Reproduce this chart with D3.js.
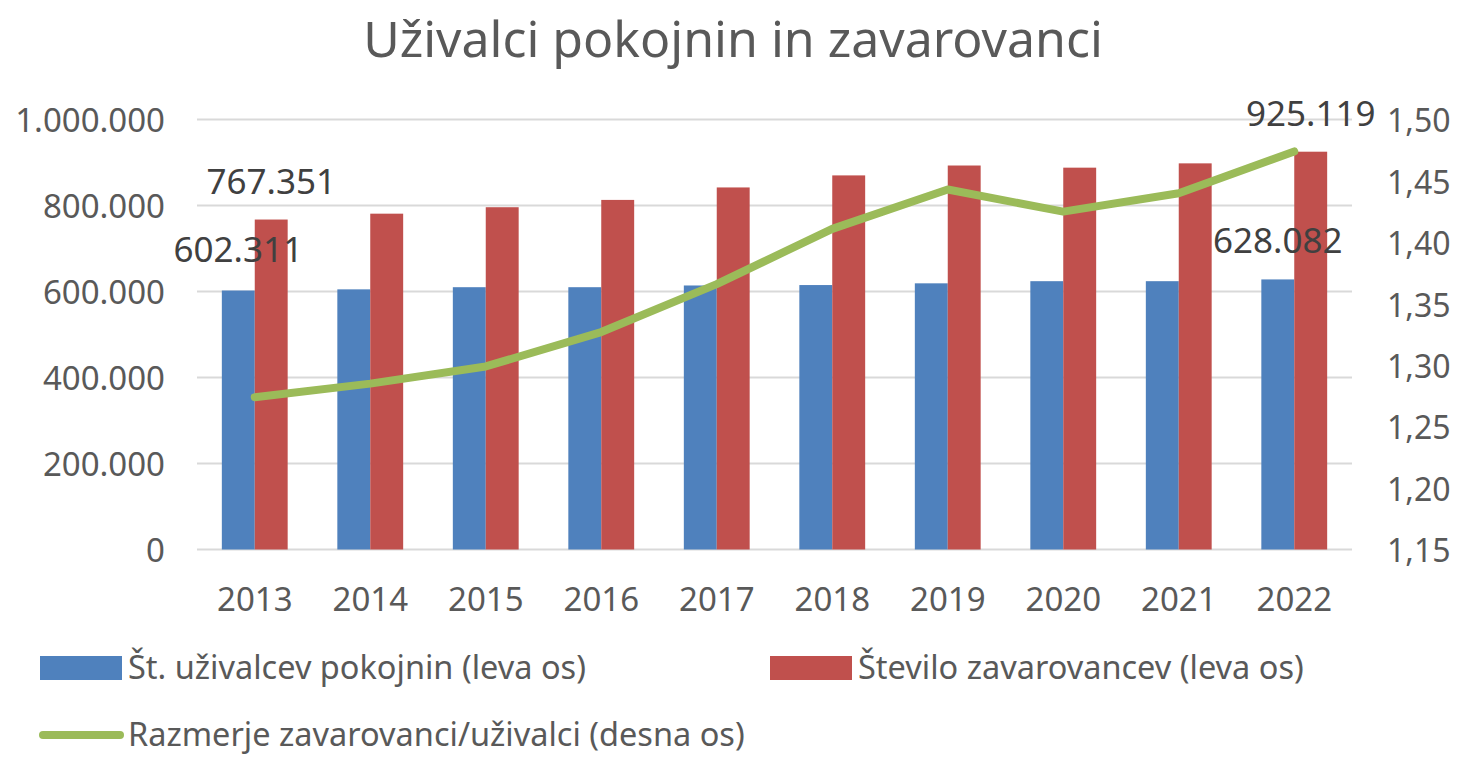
<!DOCTYPE html>
<html>
<head>
<meta charset="UTF-8">
<style>
  body { margin: 0; background: #fff; font-family: "Noto Sans", sans-serif; }
  svg { display: block; }
</style>
</head>
<body>
<div id="chart"></div>
<script src="https://d3js.org/d3.v7.min.js"></script>
<script>
  // data
  var years = ["2013", "2014", "2015", "2016", "2017", "2018", "2019", "2020", "2021", "2022"];
  var upokojenci = [602311, 605000, 610000, 610000, 614000, 615000, 619000, 624000, 624000, 628082];
  var zavarovanci = [767351, 781000, 796000, 813000, 842000, 870000, 893000, 888000, 898000, 925119];
  var razmerje = [1.274, 1.285, 1.299, 1.327, 1.366, 1.411, 1.443, 1.425, 1.440, 1.474];
  var leftTicks = [0, 200000, 400000, 600000, 800000, 1000000];
  var rightTicks = [1.15, 1.20, 1.25, 1.30, 1.35, 1.40, 1.45, 1.50];

  var width = 1461, height = 757;
  var margin = {top: 119.5, right: 109, bottom: 207.5, left: 197};

  var locale = d3.formatLocale({decimal: ",", thousands: ".", grouping: [3], currency: ["", "€"]});
  var fmtLeft = locale.format(",d");
  var fmtRight = locale.format(".2f");

  var svg = d3.select("#chart").append("svg")
    .attr("width", width)
    .attr("height", height);

  var x = d3.scaleBand()
    .domain(years)
    .range([margin.left, width - margin.right])
    .paddingInner(0.43)
    .paddingOuter(0.215);

  var sub = d3.scaleBand()
    .domain(["u", "z"])
    .range([0, x.bandwidth()]);

  var y = d3.scaleLinear()
    .domain([0, 1000000])
    .range([height - margin.bottom, margin.top]);

  var y2 = d3.scaleLinear()
    .domain([1.15, 1.50])
    .range([height - margin.bottom, margin.top]);

  // title
  svg.append("text")
    .attr("x", 733)
    .attr("y", 57)
    .attr("text-anchor", "middle")
    .attr("fill", "#595959")
    .style("font-size", "50px")
    .text("Uživalci pokojnin in zavarovanci");

  // gridlines
  svg.append("g")
    .selectAll("line")
    .data(leftTicks)
    .join("line")
    .attr("x1", margin.left)
    .attr("x2", width - margin.right)
    .attr("y1", d => y(d))
    .attr("y2", d => y(d))
    .attr("stroke", "#d9d9d9")
    .attr("stroke-width", 2);

  // left axis
  var gl = svg.append("g")
    .attr("transform", "translate(" + (margin.left - 32) + ",1)")
    .call(d3.axisLeft(y).tickValues(leftTicks).tickFormat(fmtLeft).tickSize(0).tickPadding(0));
  gl.select(".domain").remove();
  gl.selectAll("text")
    .attr("fill", "#595959")
    .style("font-family", "Noto Sans")
    .style("font-size", "33px");

  // right axis
  var gr = svg.append("g")
    .attr("transform", "translate(" + (width - margin.right + 35) + ",2)")
    .call(d3.axisRight(y2).tickValues(rightTicks).tickFormat(fmtRight).tickSize(0).tickPadding(0));
  gr.select(".domain").remove();
  gr.selectAll("text")
    .attr("fill", "#595959")
    .style("font-family", "Noto Sans")
    .style("font-size", "32px");

  // bottom axis labels
  var gb = svg.append("g")
    .attr("transform", "translate(0," + (height - margin.bottom + 38) + ")")
    .call(d3.axisBottom(x).tickSize(0).tickPadding(0));
  gb.select(".domain").remove();
  gb.selectAll("text")
    .attr("fill", "#595959")
    .style("font-family", "Noto Sans")
    .style("font-size", "33px");

  // bars
  var rows = years.map((yr, i) => ({year: yr, u: upokojenci[i], z: zavarovanci[i], r: razmerje[i]}));

  var groups = svg.append("g")
    .selectAll("g")
    .data(rows)
    .join("g")
    .attr("transform", d => "translate(" + x(d.year) + ",0)");

  groups.append("rect")
    .attr("x", sub("u"))
    .attr("y", d => y(d.u))
    .attr("width", sub.bandwidth())
    .attr("height", d => y(0) - y(d.u))
    .attr("fill", "#4f81bd");

  groups.append("rect")
    .attr("x", sub("z"))
    .attr("y", d => y(d.z))
    .attr("width", sub.bandwidth())
    .attr("height", d => y(0) - y(d.z))
    .attr("fill", "#c0504d");

  // ratio line
  var line = d3.line()
    .x(d => x(d.year) + x.bandwidth() / 2)
    .y(d => y2(d.r));

  svg.append("path")
    .datum(rows)
    .attr("d", line)
    .attr("fill", "none")
    .attr("stroke", "#9bbb59")
    .attr("stroke-width", 8)
    .attr("stroke-linejoin", "round")
    .attr("stroke-linecap", "round");

  // data labels (first and last year)
  var first = rows[0], last = rows[rows.length - 1];
  var labels = [
    {txt: fmtLeft(first.z), cx: x(first.year) + sub("z") + sub.bandwidth() / 2, cy: y(first.z) - 38},
    {txt: fmtLeft(first.u), cx: x(first.year) + sub("u") + sub.bandwidth() / 2, cy: y(first.u) - 41},
    {txt: fmtLeft(last.z), cx: x(last.year) + sub("z") + sub.bandwidth() / 2, cy: y(last.z) - 38},
    {txt: fmtLeft(last.u), cx: x(last.year) + sub("u") + sub.bandwidth() / 2, cy: y(last.u) - 39}
  ];
  svg.append("g")
    .selectAll("text")
    .data(labels)
    .join("text")
    .attr("x", d => d.cx)
    .attr("y", d => d.cy)
    .attr("dy", "0.35em")
    .attr("text-anchor", "middle")
    .attr("fill", "#404040")
    .style("font-size", "35px")
    .text(d => d.txt);

  // legend
  var legend = [
    {name: "Št. uživalcev pokojnin (leva os)", color: "#4f81bd", type: "rect", lx: 40, ly: 668},
    {name: "Število zavarovancev (leva os)", color: "#c0504d", type: "rect", lx: 770, ly: 668},
    {name: "Razmerje zavarovanci/uživalci (desna os)", color: "#9bbb59", type: "line", lx: 40, ly: 735}
  ];
  var lg = svg.append("g")
    .selectAll("g")
    .data(legend)
    .join("g")
    .attr("transform", d => "translate(" + d.lx + "," + d.ly + ")");

  lg.filter(d => d.type == "rect").append("rect")
    .attr("x", 0).attr("y", -12)
    .attr("width", 82).attr("height", 24)
    .attr("fill", d => d.color);

  lg.filter(d => d.type == "line").append("line")
    .attr("x1", 3).attr("x2", 80)
    .attr("y1", 0).attr("y2", 0)
    .attr("stroke", d => d.color)
    .attr("stroke-width", 8)
    .attr("stroke-linecap", "round");

  lg.append("text")
    .attr("x", 88)
    .attr("dy", "0.35em")
    .attr("fill", "#595959")
    .style("font-size", "32.5px")
    .text(d => d.name);
</script>
</body>
</html>
